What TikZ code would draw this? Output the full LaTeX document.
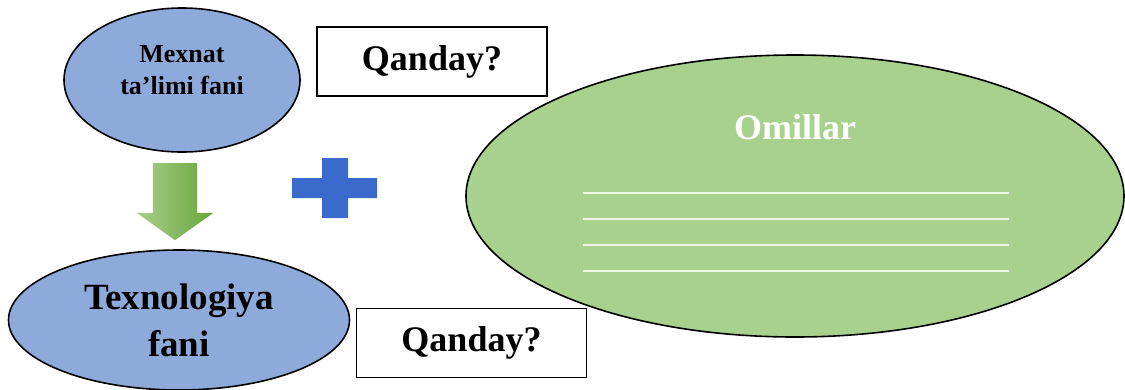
\documentclass[tikz,border=0pt]{standalone}
\usepackage{fontspec}
\setmainfont{Liberation Serif}
\usetikzlibrary{shapes.geometric,shapes.arrows,positioning}

\definecolor{ovalblue}{HTML}{8EAADB}
\definecolor{ovalgreen}{HTML}{A9D18E}
\definecolor{arrowgreen}{HTML}{6FAE3E}
\definecolor{plusblue}{HTML}{3A6BCC}

\begin{document}
\begin{tikzpicture}[
    x=1pt, y=-1pt,
    oval/.style={draw, ellipse, line width=1.6pt, inner sep=0pt},
    qbox/.style={draw, line width=1.4pt, minimum width=230pt, minimum height=69pt, inner sep=0pt, font=\bfseries\fontsize{36}{40}\selectfont},
    rule/.style={draw=white!80!ovalgreen, line width=1.2pt},
]
    \useasboundingbox (0,0) rectangle (1125,389);

    % left column
    \node[oval, fill=ovalblue, minimum width=236pt, minimum height=144pt] (mexnat) at (182,80) {};
    \node[font=\bfseries\fontsize{26}{32}\selectfont, align=center] (mexnattext) at (182,70) {Mexnat\\ta’limi fani};
    \node[oval, fill=ovalblue, minimum width=341pt, minimum height=140pt, align=center,
          font=\bfseries\fontsize{37}{47}\selectfont] (texno) at (179,320) {Texnologiya\\fani};
    \node[single arrow, rotate=-90, anchor=tail, minimum height=77pt, inner xsep=0pt, inner ysep=22pt,
          single arrow head extend=16pt, single arrow tip angle=109,
          left color=arrowgreen!60!white, right color=arrowgreen!95!black] (down) at (175,163) {};

    % plus sign
    \fill[plusblue] (322,158) -- (348,158) -- (348,178) -- (377,178) -- (377,198) -- (348,198)
        -- (348,218) -- (322,218) -- (322,198) -- (292,198) -- (292,178) -- (322,178) -- cycle;

    % question boxes
    \node[qbox] (q1) at (432,61.5) {Qanday?};
    \node[qbox] (q2) at (471.5,343) {Qanday?};

    % right ellipse
    \node[oval, fill=ovalgreen, minimum width=658pt, minimum height=282pt] (omillar) at (795,196) {};
    \node[font=\bfseries\fontsize{36}{40}\selectfont, text=white] (omillartext) at (795,127) {Omillar};
    \foreach \y in {193,219,245,271}
        \draw[rule] (583,\y) -- (1009,\y);
\end{tikzpicture}
\end{document}
